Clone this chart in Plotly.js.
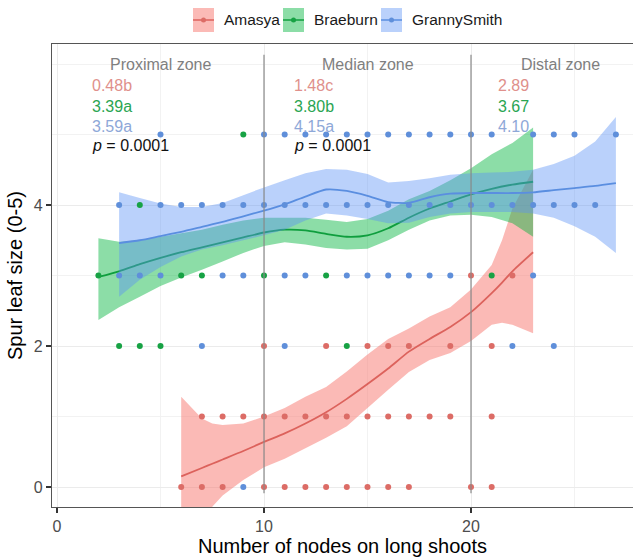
<!DOCTYPE html>
<html>
<head>
<meta charset="utf-8">
<script src="https://cdn.plot.ly/plotly-3.0.1.min.js"></script>
<style>html,body{margin:0;padding:0;background:#fff;}#chart{width:633px;height:557px;}</style>
</head>
<body>
<div id="chart"></div>
<script>
// ---------- data ----------
const seriesNames = ["Amasya", "Braeburn", "GrannySmith"];

// raw observations
const amasyaX = [6,7,8,10,11,12,13,14,15,16,17,20,21, 7,8,9,10,11,12,13,14,15,16,17,18,19,21, 10,13,15,16,17,19,21, 20,22];
const amasyaY = [0,0,0,0,0,0,0,0,0,0,0,0,0, 1,1,1,1,1,1,1,1,1,1,1,1,1,1, 2,2,2,2,2,2,2, 3,3];
const braeburnX = [3,4,5,14, 2,6,7,10,13,21, 4, 9];
const braeburnY = [2,2,2,2, 3,3,3,3,3,3, 4, 5];
const grannyX = [9, 7,11,22,24, 3,4,5,8,9,11,12,14,15,16,17,18,19,23,
  3,5,6,7,8,9,10,11,12,13,14,15,16,17,18,19,20,21,22,23,24,25,26,
  5,10,11,12,13,14,15,16,17,18,19,20,21,23,24,25,27];
const grannyY = [0, 2,2,2,2, 3,3,3,3,3,3,3,3,3,3,3,3,3,3,
  4,4,4,4,4,4,4,4,4,4,4,4,4,4,4,4,4,4,4,4,4,4,4,
  5,5,5,5,5,5,5,5,5,5,5,5,5,5,5,5,5];

// loess fits with confidence band
const amasyaFitX = [6,7,7.5,8,9,10,11,12,13,14,15,16,17,18,19,20,21,21.5,22,23];
const amasyaFit  = [0.15,0.27,0.33,0.39,0.51,0.64,0.76,0.9,1.06,1.25,1.46,1.68,1.92,2.1,2.27,2.48,2.75,2.9,3.06,3.33];
const amasyaHi   = [1.28,0.97,0.9,0.88,0.9,1.0,1.12,1.28,1.42,1.64,1.88,2.1,2.25,2.42,2.55,2.8,3.15,3.5,3.95,4.5];
const amasyaLo   = [-1.0,-0.55,-0.28,-0.12,0.1,0.28,0.4,0.55,0.7,0.86,1.12,1.38,1.63,1.8,1.9,2.07,2.3,2.33,2.3,2.18];

const braeburnFitX = [2,3,4,5,6,7,8,9,10,11,12,13,14,15,16,17,18,19,20,21,22,23];
const braeburnFit  = [2.98,3.06,3.16,3.25,3.33,3.4,3.47,3.54,3.61,3.65,3.64,3.59,3.55,3.57,3.67,3.82,3.95,4.05,4.15,4.23,4.29,4.33];
const braeburnHi   = [3.53,3.48,3.5,3.55,3.6,3.65,3.72,3.78,3.82,3.82,3.82,3.79,3.76,3.8,3.92,4.08,4.2,4.35,4.52,4.72,4.88,5.1];
const braeburnLo   = [2.37,2.55,2.7,2.85,2.97,3.08,3.2,3.32,3.42,3.47,3.44,3.39,3.37,3.38,3.5,3.65,3.78,3.85,3.86,3.83,3.74,3.55];

const grannyFitX = [3,4,5,6,7,8,9,10,11,12,13,14,15,16,17,18,19,20,21,22,23,24,25,26,27];
const grannyFit  = [3.46,3.5,3.56,3.62,3.69,3.76,3.84,3.92,4.01,4.12,4.22,4.2,4.13,4.04,4.03,4.11,4.16,4.17,4.17,4.17,4.18,4.21,4.24,4.27,4.31];
const grannyHi   = [4.18,4.1,4.02,3.97,3.97,4.03,4.14,4.25,4.35,4.45,4.51,4.5,4.44,4.32,4.34,4.38,4.43,4.45,4.46,4.47,4.5,4.58,4.7,4.9,5.25];
const grannyLo   = [2.7,2.94,3.12,3.27,3.37,3.43,3.5,3.57,3.65,3.78,3.88,3.85,3.8,3.74,3.75,3.83,3.88,3.9,3.9,3.9,3.88,3.82,3.7,3.55,3.32];

// zone annotations
const zoneNames = ["Proximal zone", "Median zone", "Distal zone"];
const zoneCenters = [5.0, 15.0, 24.3];
const zoneTextX = [1.6, 11.35, 21.2];
const amasyaMeans = ["0.48b", "1.48c", "2.89"];
const braeburnMeans = ["3.39a", "3.80b", "3.67"];
const grannyMeans = ["3.59a", "4.15a", "4.10"];
const pValues = ["0.0001", "0.0001", null];
const zoneBreaks = [10, 20];

const xTicks = [0, 10, 20];
const yTicks = [0, 2, 4];

// ---------- styling ----------
const pointColors = ["#dc6c66", "#17a244", "#5f8fda"];
const lineColors  = ["#dc625c", "#0f9e3e", "#5a8ee0"];
const bandColors  = ["rgba(248,118,109,0.5)", "rgba(0,180,60,0.45)", "rgba(90,145,245,0.42)"];
const textColors  = ["#e0908b", "#2aa552", "#8ea8d8"];
const FONT = "Liberation Sans, Arial, sans-serif";

const fits = [
  [amasyaFitX, amasyaFit, amasyaHi, amasyaLo],
  [braeburnFitX, braeburnFit, braeburnHi, braeburnLo],
  [grannyFitX, grannyFit, grannyHi, grannyLo]
];
const pts = [[amasyaX, amasyaY], [braeburnX, braeburnY], [grannyX, grannyY]];

const traces = [];
fits.forEach((f, i) => {
  const [fx, fy, hi, lo] = f;
  traces.push({
    type: "scatter", mode: "none", fill: "toself", fillcolor: bandColors[i],
    x: fx.concat(fx.slice().reverse()), y: hi.concat(lo.slice().reverse()),
    hoverinfo: "skip", showlegend: false
  });
  traces.push({
    type: "scatter", mode: "lines", x: fx, y: fy,
    line: {color: lineColors[i], width: 1.8, shape: "spline", smoothing: 0.6},
    name: seriesNames[i], showlegend: false
  });
});
pts.forEach((p, i) => {
  traces.push({
    type: "scatter", mode: "markers", x: p[0], y: p[1],
    marker: {color: pointColors[i], size: 6},
    name: seriesNames[i], showlegend: false
  });
});

// ---------- layout ----------
const L = 52, R = 633, T = 44, B = 507;
const pxX = px => (px - L) / (R - L);
const pxY = py => (B - py) / (B - T);

const annotations = [];
const shapes = [];
zoneNames.forEach((z, k) => {
  annotations.push({x: zoneCenters[k], y: 6.0, xref: "x", yref: "y", text: z, showarrow: false,
    font: {family: FONT, size: 16, color: "#7f7f7f"}, xanchor: "center", yanchor: "middle"});
  const rows = [amasyaMeans[k], braeburnMeans[k], grannyMeans[k]];
  const ys = [5.70, 5.40, 5.12];
  rows.forEach((t, i) => {
    annotations.push({x: zoneTextX[k], y: ys[i], xref: "x", yref: "y", text: t, showarrow: false,
      font: {family: FONT, size: 16, color: textColors[i]}, xanchor: "left", yanchor: "middle"});
  });
  if (pValues[k]) {
    annotations.push({x: zoneTextX[k], y: 4.84, xref: "x", yref: "y", text: "<i>p</i> = " + pValues[k], showarrow: false,
      font: {family: FONT, size: 16, color: "#111"}, xanchor: "left", yanchor: "middle"});
  }
});
zoneBreaks.forEach(b => {
  shapes.push({type: "line", xref: "x", yref: "y", x0: b, x1: b, y0: -0.09, y1: 6.13,
    line: {color: "#8a8a8a", width: 1.2}, layer: "above"});
});

// custom ggplot-style legend
const legendKeyLeft = [193, 283, 381];
seriesNames.forEach((n, i) => {
  const x0 = legendKeyLeft[i], x1 = x0 + 21, yc = 20;
  shapes.push({type: "rect", xref: "paper", yref: "paper", x0: pxX(x0), x1: pxX(x1), y0: pxY(32), y1: pxY(8),
    fillcolor: bandColors[i], line: {width: 0}});
  shapes.push({type: "line", xref: "paper", yref: "paper", x0: pxX(x0), x1: pxX(x1), y0: pxY(yc), y1: pxY(yc),
    line: {color: lineColors[i], width: 1.5}});
  shapes.push({type: "circle", xref: "paper", yref: "paper", x0: pxX(x0 + 8), x1: pxX(x0 + 13), y0: pxY(yc + 2.5), y1: pxY(yc - 2.5),
    fillcolor: pointColors[i], line: {width: 0}});
  annotations.push({xref: "paper", yref: "paper", x: pxX(x1 + 8), y: pxY(yc), text: n, showarrow: false,
    xanchor: "left", yanchor: "middle", font: {family: FONT, size: 15.5, color: "#1a1a1a"}});
});

const layout = {
  width: 633, height: 557,
  margin: {l: L, r: 0, t: T, b: 557 - B, pad: 0},
  paper_bgcolor: "#fff", plot_bgcolor: "#fff",
  font: {family: FONT, size: 16, color: "#4d4d4d"},
  showlegend: false,
  xaxis: {
    range: [(L - 57) / 20.7, (R - 57) / 20.7],
    tickvals: xTicks, ticktext: xTicks.map(String),
    ticks: "outside", ticklen: 5, tickcolor: "#333", tickwidth: 1.1,
    showgrid: true, gridcolor: "#ebebeb", gridwidth: 1,
    minor: {dtick: 5, tick0: 0, showgrid: true, gridcolor: "#f1f1f1", gridwidth: 0.9},
    zeroline: false, showline: true, mirror: true, linecolor: "#555", linewidth: 1.2,
    tickfont: {family: FONT, size: 16, color: "#4d4d4d"},
    title: {text: "Number of nodes on long shoots", font: {family: FONT, size: 20, color: "#000"}, standoff: 4},
    automargin: false
  },
  yaxis: {
    range: [(487 - B) / 70.5, (487 - T) / 70.5],
    tickvals: yTicks, ticktext: yTicks.map(String),
    ticks: "outside", ticklen: 5, tickcolor: "#333", tickwidth: 1.1,
    showgrid: true, gridcolor: "#ebebeb", gridwidth: 1,
    minor: {dtick: 1, tick0: 0, showgrid: true, gridcolor: "#f1f1f1", gridwidth: 0.9},
    zeroline: false, showline: true, mirror: true, linecolor: "#555", linewidth: 1.2,
    tickfont: {family: FONT, size: 16, color: "#4d4d4d"},
    title: {text: "Spur leaf size (0-5)", font: {family: FONT, size: 20, color: "#000"}, standoff: 5},
    automargin: false
  },
  annotations: annotations,
  shapes: shapes
};

Plotly.newPlot("chart", traces, layout, {displayModeBar: false, staticPlot: true});
</script>
</body>
</html>
